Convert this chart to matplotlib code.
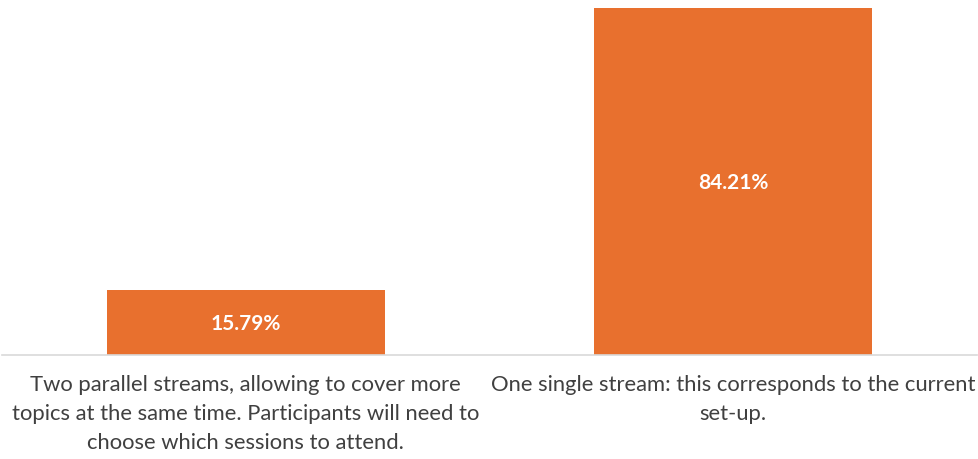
import matplotlib as mpl
import matplotlib.pyplot as plt

mpl.rcParams["font.family"] = ["Lato", "DejaVu Sans"]

categories = [
    "Two parallel streams, allowing to cover more\ntopics at the same time. Participants will need to\nchoose which sessions to attend.",
    "One single stream: this corresponds to the current\nset-up.",
]
values = [15.79, 84.21]

BAR = "#e8702e"
TEXT = "#404040"

fig = plt.figure(figsize=(9.79, 4.60), dpi=100)
ax = fig.add_axes([0.002, 0.226, 0.996, 0.754])

x = list(range(len(values)))
bars = ax.bar(x, values, width=0.57, color=BAR, zorder=2)
for b, v in zip(bars, values):
    ax.text(b.get_x() + b.get_width() / 2, v / 2, f"{v:.2f}%",
            ha="center", va="center", color="white",
            fontsize=15, fontweight="bold")

ax.set_xlim(-0.5, 1.5)
ax.set_ylim(0, 84.21)
ax.set_xticks(x)
ax.set_xticklabels(categories, fontsize=15.8, color=TEXT, linespacing=1.55)
ax.tick_params(axis="x", length=0, pad=14)
ax.set_yticks([])
for s in ["top", "right", "left"]:
    ax.spines[s].set_visible(False)
ax.spines["bottom"].set_color("#d9d9d9")
ax.spines["bottom"].set_linewidth(1.2)

fig.savefig("out.png", dpi=100)
